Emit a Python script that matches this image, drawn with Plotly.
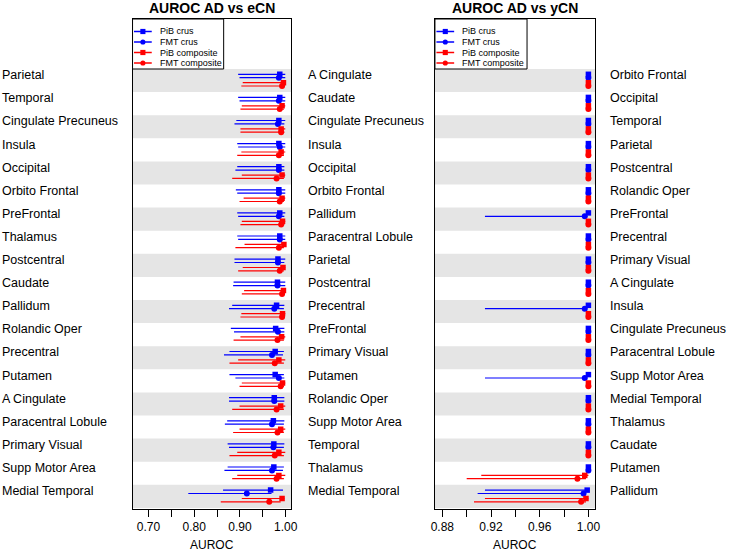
import plotly.graph_objects as go

# ---------------- data ----------------
regions_ecn = ["Parietal", "Temporal", "Cingulate Precuneus", "Insula", "Occipital",
               "Orbito Frontal", "PreFrontal", "Thalamus", "Postcentral", "Caudate",
               "Pallidum", "Rolandic Oper", "Precentral", "Putamen", "A Cingulate",
               "Paracentral Lobule", "Primary Visual", "Supp Motor Area", "Medial Temporal"]

middle_labels = ["A Cingulate", "Caudate", "Cingulate Precuneus", "Insula", "Occipital",
                 "Orbito Frontal", "Pallidum", "Paracentral Lobule", "Parietal", "Postcentral",
                 "Precentral", "PreFrontal", "Primary Visual", "Putamen", "Rolandic Oper",
                 "Supp Motor Area", "Temporal", "Thalamus", "Medial Temporal"]

regions_ycn = ["Orbito Frontal", "Occipital", "Temporal", "Parietal", "Postcentral",
               "Rolandic Oper", "PreFrontal", "Precentral", "Primary Visual", "A Cingulate",
               "Insula", "Cingulate Precuneus", "Paracentral Lobule", "Supp Motor Area",
               "Medial Temporal", "Thalamus", "Caudate", "Putamen", "Pallidum"]

series_names = ["PiB crus", "FMT crus", "PiB composite", "FMT composite"]

# AD vs eCN
ecn_pib_crus_est = [0.987, 0.987, 0.985, 0.985, 0.985, 0.985, 0.987, 0.987, 0.983, 0.982,
                    0.980, 0.978, 0.977, 0.977, 0.975, 0.973, 0.974, 0.974, 0.967]
ecn_pib_crus_lo = [0.896, 0.896, 0.892, 0.894, 0.894, 0.891, 0.894, 0.894, 0.888, 0.886,
                   0.883, 0.880, 0.877, 0.877, 0.876, 0.872, 0.873, 0.873, 0.863]
ecn_pib_crus_hi = [0.999, 0.999, 0.999, 0.999, 0.997, 0.999, 0.999, 0.999, 0.999, 0.999,
                   0.997, 0.997, 0.996, 0.996, 0.997, 0.997, 0.997, 0.996, 0.994]

ecn_fmt_crus_est = [0.985, 0.985, 0.983, 0.987, 0.985, 0.985, 0.985, 0.987, 0.983, 0.982,
                    0.975, 0.983, 0.970, 0.985, 0.975, 0.970, 0.973, 0.970, 0.915]
ecn_fmt_crus_lo = [0.899, 0.899, 0.888, 0.896, 0.890, 0.894, 0.896, 0.896, 0.888, 0.885,
                   0.876, 0.887, 0.865, 0.890, 0.876, 0.867, 0.876, 0.866, 0.787]
ecn_fmt_crus_hi = [0.999, 0.999, 0.997, 0.999, 0.997, 0.999, 0.997, 0.999, 0.997, 0.999,
                   0.996, 0.997, 0.994, 0.997, 0.997, 0.996, 0.996, 0.994, 0.969]

ecn_pib_comp_est = [0.995, 0.992, 0.990, 0.990, 0.992, 0.992, 0.993, 0.996, 0.994, 0.995,
                    0.993, 0.991, 0.985, 0.993, 0.989, 0.989, 0.985, 0.985, 0.992]
ecn_pib_comp_lo = [0.906, 0.904, 0.901, 0.903, 0.904, 0.908, 0.904, 0.910, 0.906, 0.909,
                   0.903, 0.901, 0.896, 0.904, 0.899, 0.899, 0.894, 0.894, 0.904]
ecn_pib_comp_hi = [0.999, 0.999, 0.999, 0.999, 0.999, 0.999, 0.999, 1.000, 0.999, 0.999,
                   0.999, 0.999, 0.999, 0.999, 0.999, 0.999, 0.999, 0.999, 0.997]

ecn_fmt_comp_est = [0.992, 0.987, 0.990, 0.985, 0.980, 0.987, 0.990, 0.985, 0.987, 0.992,
                    0.992, 0.982, 0.976, 0.989, 0.980, 0.982, 0.976, 0.980, 0.964]
ecn_fmt_comp_lo = [0.903, 0.901, 0.901, 0.894, 0.883, 0.899, 0.901, 0.890, 0.896, 0.904,
                   0.901, 0.886, 0.877, 0.899, 0.883, 0.885, 0.877, 0.883, 0.858]
ecn_fmt_comp_hi = [0.997, 0.996, 0.997, 0.996, 0.996, 0.996, 0.997, 0.996, 0.996, 0.996,
                   0.997, 0.996, 0.996, 0.996, 0.996, 0.996, 0.996, 0.996, 0.989]

# AD vs yCN
ycn_pib_crus_est = [1.0] * 18 + [0.999]
ycn_pib_crus_lo = [1.0] * 18 + [0.915]
ycn_pib_crus_hi = [1.0] * 19

ycn_fmt_crus_est = [1.0, 1.0, 1.0, 1.0, 1.0, 1.0, 0.997, 1.0, 1.0, 1.0,
                    0.997, 1.0, 1.0, 0.997, 1.0, 1.0, 1.0, 1.0, 0.996]
ycn_fmt_crus_lo = [1.0, 1.0, 1.0, 1.0, 1.0, 1.0, 0.915, 1.0, 1.0, 1.0,
                   0.915, 1.0, 1.0, 0.915, 1.0, 1.0, 1.0, 1.0, 0.909]
ycn_fmt_crus_hi = [1.0, 1.0, 1.0, 1.0, 1.0, 1.0, 0.999, 1.0, 1.0, 1.0,
                   0.999, 1.0, 1.0, 0.999, 1.0, 1.0, 1.0, 1.0, 0.998]

ycn_pib_comp_est = [1.0] * 17 + [0.997, 0.998]
ycn_pib_comp_lo = [1.0] * 17 + [0.912, 0.915]
ycn_pib_comp_hi = [1.0] * 19

ycn_fmt_comp_est = [1.0] * 17 + [0.991, 0.994]
ycn_fmt_comp_lo = [1.0] * 17 + [0.900, 0.906]
ycn_fmt_comp_hi = [1.0] * 17 + [0.998, 0.998]

ecn_ticks = [0.70, 0.75, 0.80, 0.85, 0.90, 0.95, 1.00]
ecn_ticktext = ["0.70", "", "0.80", "", "0.90", "", "1.00"]
ycn_ticks = [0.88, 0.90, 0.92, 0.94, 0.96, 0.98, 1.00]
ycn_ticktext = ["0.88", "", "0.92", "", "0.96", "", "1.00"]

# ---------------- geometry / style ----------------
W, H = 734, 552
FONT = "Liberation Sans, Arial, Helvetica, sans-serif"
BLUE, RED = "#0000FF", "#FF0000"
colors = [BLUE, BLUE, RED, RED]
symbols = ["square", "circle", "square", "circle"]
offsets = [-0.27, -0.123, 0.093, 0.236]


def px(x):
    return x / W


def py(y):
    return (H - y) / H


P1 = (130.5, 291.5)
P2 = (437.5, 600.0)
TOP, BOT = 19.0, 509.0
ROW0, ROWH = 69.0, 23.1
yr_top = (TOP - (ROW0 + ROWH / 2)) / ROWH
yr_bot = (BOT - (ROW0 + ROWH / 2)) / ROWH
n = len(regions_ecn)

# x ranges derived from tick pixel positions
ecn_range = [0.70 + (P1[0] - 146.7) / 465.0, 1.00 + (P1[1] - 286.0) / 465.0]
ycn_range = [0.88 + (P2[0] - 445.0) / 1235.0, 1.00 + (P2[1] - 593.3) / 1235.0]

fig = go.Figure()

panels = [
    ("x", "y", [(ecn_pib_crus_est, ecn_pib_crus_lo, ecn_pib_crus_hi),
                (ecn_fmt_crus_est, ecn_fmt_crus_lo, ecn_fmt_crus_hi),
                (ecn_pib_comp_est, ecn_pib_comp_lo, ecn_pib_comp_hi),
                (ecn_fmt_comp_est, ecn_fmt_comp_lo, ecn_fmt_comp_hi)]),
    ("x2", "y2", [(ycn_pib_crus_est, ycn_pib_crus_lo, ycn_pib_crus_hi),
                  (ycn_fmt_crus_est, ycn_fmt_crus_lo, ycn_fmt_crus_hi),
                  (ycn_pib_comp_est, ycn_pib_comp_lo, ycn_pib_comp_hi),
                  (ycn_fmt_comp_est, ycn_fmt_comp_lo, ycn_fmt_comp_hi)]),
]

for xa, ya, series in panels:
    for k, (est, lo, hi) in enumerate(series):
        fig.add_trace(go.Scatter(
            x=est, y=[i + offsets[k] for i in range(n)], xaxis=xa, yaxis=ya,
            mode="markers", name=series_names[k], showlegend=False, hoverinfo="skip",
            marker=dict(symbol=symbols[k], size=6 if symbols[k] == "circle" else 5.5,
                        color=colors[k], line=dict(width=0)),
            error_x=dict(type="data", symmetric=False,
                         array=[h - e for e, h in zip(est, hi)],
                         arrayminus=[e - l for e, l in zip(est, lo)],
                         color=colors[k], thickness=1.2, width=0),
        ))

shapes = []
# alternating gray bands
for xa, ya in [("x", "y"), ("x2", "y2")]:
    for i in range(0, n, 2):
        shapes.append(dict(type="rect", xref=f"{xa} domain", yref=ya, x0=0, x1=1,
                           y0=i - 0.5, y1=i + 0.5, fillcolor="#E5E5E5",
                           line=dict(width=0), layer="below"))

annotations = []
# custom legends
entry_y = [31.5, 42.0, 52.5, 63.0]
for (left, right) in [(P1[0], 223.0), (P2[0], 531.0)]:
    shapes.append(dict(type="rect", xref="paper", yref="paper",
                       x0=px(left), x1=px(right), y0=py(TOP), y1=py(69.0),
                       fillcolor="white", line=dict(color="black", width=1)))
    for k, ey in enumerate(entry_y):
        shapes.append(dict(type="line", xref="paper", yref="paper",
                           x0=px(left + 1.5), x1=px(left + 19.5), y0=py(ey), y1=py(ey),
                           line=dict(color=colors[k], width=1.5)))
        cx = left + 10.5
        r = 2.6
        shapes.append(dict(type="rect" if symbols[k] == "square" else "circle",
                           xref="paper", yref="paper",
                           x0=px(cx - r), x1=px(cx + r), y0=py(ey + r), y1=py(ey - r),
                           fillcolor=colors[k], line=dict(width=0)))
        annotations.append(dict(xref="paper", yref="paper", x=px(left + 25.5), y=py(ey),
                                xanchor="left", yanchor="middle", showarrow=False,
                                text=series_names[k],
                                font=dict(family=FONT, size=9, color="black")))

label_off = -0.23
for i in range(n):
    annotations.append(dict(xref="paper", yref="y", x=px(-4), y=i + label_off,
                            xanchor="left", yanchor="middle", showarrow=False,
                            text=regions_ecn[i], font=dict(family=FONT, size=12.5, color="black")))
    annotations.append(dict(xref="paper", yref="y2", x=px(307), y=i + label_off,
                            xanchor="left", yanchor="middle", showarrow=False,
                            text=middle_labels[i], font=dict(family=FONT, size=12.5, color="black")))
    annotations.append(dict(xref="paper", yref="y2", x=px(613), y=i + label_off,
                            xanchor="left", yanchor="middle", showarrow=False,
                            text=regions_ycn[i], font=dict(family=FONT, size=12.5, color="black")))

# titles and axis titles
for (l, r), title in [(P1, "AUROC AD vs eCN"), (P2, "AUROC AD vs yCN")]:
    annotations.append(dict(xref="paper", yref="paper", x=px((l + r) / 2), y=py(8.0),
                            xanchor="center", yanchor="middle", showarrow=False,
                            text=f"<b>{title}</b>",
                            font=dict(family=FONT, size=14, color="black")))
    annotations.append(dict(xref="paper", yref="paper", x=px((l + r) / 2), y=py(545),
                            xanchor="center", yanchor="middle", showarrow=False,
                            text="AUROC", font=dict(family=FONT, size=12, color="black")))

axis_common = dict(showline=True, mirror=True, linecolor="black", linewidth=1,
                   showgrid=False, zeroline=False, fixedrange=True)

fig.update_layout(
    width=W, height=H, autosize=False,
    margin=dict(l=0, r=0, t=0, b=0),
    paper_bgcolor="white", plot_bgcolor="white",
    showlegend=False, hovermode=False,
    font=dict(family=FONT, color="black"),
    xaxis=dict(domain=[px(P1[0]), px(P1[1])], range=ecn_range, anchor="y",
               tickvals=ecn_ticks, ticktext=ecn_ticktext, ticks="outside", ticklen=7,
               tickcolor="black", tickwidth=1, tickfont=dict(family=FONT, size=12, color="black"),
               **axis_common),
    yaxis=dict(domain=[py(BOT), py(TOP)], range=[yr_bot, yr_top], anchor="x",
               showticklabels=False, ticks="", **axis_common),
    xaxis2=dict(domain=[px(P2[0]), px(P2[1])], range=ycn_range, anchor="y2",
                tickvals=ycn_ticks, ticktext=ycn_ticktext, ticks="outside", ticklen=7,
                tickcolor="black", tickwidth=1, tickfont=dict(family=FONT, size=12, color="black"),
                **axis_common),
    yaxis2=dict(domain=[py(BOT), py(TOP)], range=[yr_bot, yr_top], anchor="x2",
                showticklabels=False, ticks="", **axis_common),
    shapes=shapes,
    annotations=annotations,
)

fig.write_html("out.html", config={"displayModeBar": False},
               post_script="document.body.style.margin='0';document.body.style.overflow='hidden';")
